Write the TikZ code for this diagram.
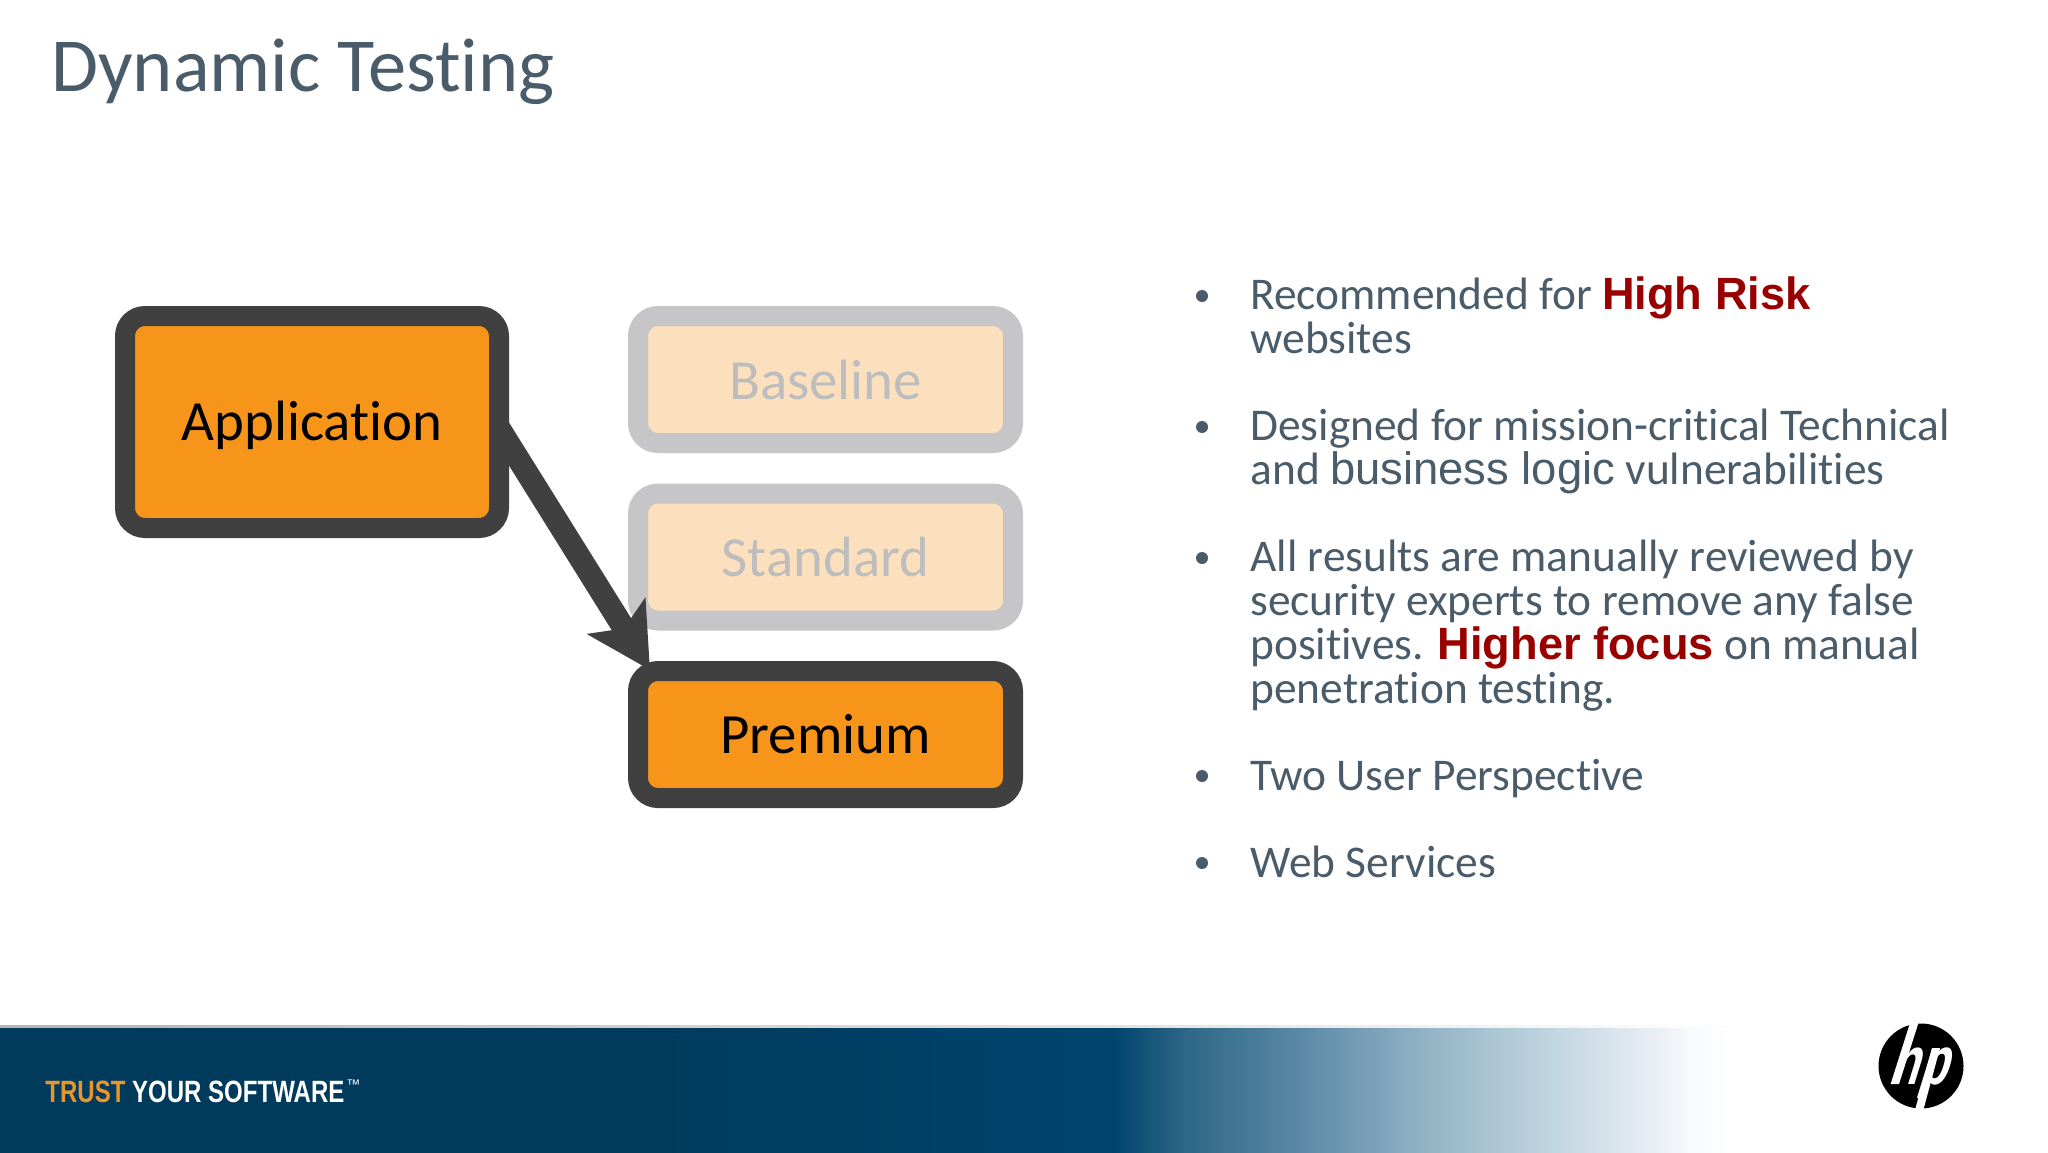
\documentclass[tikz,border=0pt]{standalone}
\usepackage{fontspec}
\setmainfont[Ligatures=NoCommon]{Carlito}
\newfontfamily\arialfont{Liberation Sans}
\newfontfamily\trustfont[FakeStretch=0.78]{Liberation Sans}
\usetikzlibrary{arrows.meta}

\definecolor{slatetext}{HTML}{4A5C6A}
\definecolor{riskred}{HTML}{990000}
\definecolor{boxorange}{HTML}{F7941A}
\definecolor{boxdark}{HTML}{404041}
\definecolor{fadeline}{HTML}{C6C6C8}
\definecolor{fadefill}{HTML}{FCE0BE}
\definecolor{fadetext}{HTML}{BDBDBD}
\definecolor{trustorange}{HTML}{E8952B}
\definecolor{bandA}{HTML}{003A5C}
\definecolor{bandB}{HTML}{00446C}
\definecolor{bandC}{HTML}{2F6788}
\definecolor{bandD}{HTML}{5B8AA6}
\definecolor{bandE}{HTML}{8FB0C3}
\definecolor{bandF}{HTML}{B9D0DC}
\definecolor{bandG}{HTML}{E6ECF3}
\definecolor{bandH}{HTML}{F7F9FB}

\pgfdeclarehorizontalshading{bandfade}{100bp}{
	color(0bp)=(bandA);
	color(39.6bp)=(bandA);
	color(52.15bp)=(bandB);
	color(53.98bp)=(bandC);
	color(56.79bp)=(bandD);
	color(59.6bp)=(bandE);
	color(62.38bp)=(bandF);
	color(65.19bp)=(bandG);
	color(66.2bp)=(bandH);
	color(67.2bp)=(white);
	color(100bp)=(white)
}

\newcommand{\riskword}[1]{{\arialfont\bfseries\fontsize{22.6pt}{22pt}\selectfont\color{riskred}#1}}

\tikzset{
	tierbox/.style={draw=boxdark, fill=boxorange, text=black, line width=10pt, rounded corners=10pt, inner sep=0pt, font=\fontsize{28.4pt}{30pt}\selectfont},
	fadebox/.style={tierbox, draw=fadeline, fill=fadefill, text=fadetext},
	flow/.style={draw=boxdark, line width=11.4pt, -{Stealth[length=31.5pt,width=33.5pt,inset=7pt]}},
	item/.style={anchor=base west, inner sep=0pt, align=left, text=slatetext, font=\fontsize{22.7pt}{22pt}\selectfont},
	dot/.style={circle, fill=slatetext, inner sep=0pt, minimum size=6pt}
}

\begin{document}
\begin{tikzpicture}[x=0.5pt,y=-0.5pt]
	\useasboundingbox (0,0) rectangle (2048,1152);
	% footer band
	\shade[left color=black!30, right color=white] (0,1025) rectangle (1760,1029);
	\shade[shading=bandfade] (0,1028) rectangle (2048,1152);
	\node[anchor=base west, inner sep=0pt, text=white, font=\trustfont\bfseries\fontsize{15.4pt}{18pt}\selectfont] (trust) at (45,1102) {\textcolor{trustorange}{TRUST} YOUR SOFTWARE};
	\node[anchor=base west, inner sep=0pt, text=white, font=\arialfont\fontsize{7pt}{8pt}\selectfont] (tm) at (346,1089) {™};
	% logo
	\fill[black] (1921,1066) circle (42.5);
	\fill[white] (1910.3,1022) -- (1918.7,1022) -- (1899,1084) -- (1890.6,1084) -- cycle;
	\fill[white] (1932,1048) -- (1940,1048) -- (1923.3,1110) -- (1915,1110) -- cycle;
	\node[xscale=0.68, xslant=0.456, transform shape, inner sep=0pt, anchor=base, text=white, font=\arialfont\bfseries\fontsize{34pt}{34pt}\selectfont] (hp) at (1918,1084) {hp};
	% title
	\node[anchor=base west, inner sep=0pt, text=slatetext, font=\fontsize{38.2pt}{40pt}\selectfont] (title) at (51,91) {Dynamic Testing};
	% tiers
	\node[tierbox, text depth=1.4pt, minimum width=187pt, minimum height=106pt] (app) at (312,422) {Application};
	\node[fadebox, minimum width=187.5pt, minimum height=63.5pt] (base) at (825.5,379.5) {Baseline};
	\node[fadebox, minimum width=187.5pt, minimum height=63.5pt] (std) at (825.5,557) {Standard};
	\node[tierbox, minimum width=187.5pt, minimum height=63.5pt] (prem) at (825.5,734.5) {Premium};
	\draw[flow] ([xshift=-5pt,yshift=-3pt]app.east) -- ([xshift=11pt,yshift=-4.5pt]prem.north west);
	% bullets
	\node[dot] (dot1) at (1202,296) {};
	\node[item] (item1) at (1250,353) {Recommended for \riskword{High Risk}\\websites};
	\node[dot] (dot2) at (1202,427) {};
	\node[item] (item2) at (1250,484) {Designed for mission-critical Technical\\and {\arialfont business logic} vulnerabilities};
	\node[dot] (dot3) at (1202,558) {};
	\node[item] (item3) at (1250,703) {All results are manually reviewed by\\security experts to remove any false\\positives. \riskword{Higher focus} on manual\\penetration testing.};
	\node[dot] (dot4) at (1202,776) {};
	\node[item] (item4) at (1250,790) {Two User Perspective};
	\node[dot] (dot5) at (1202,863) {};
	\node[item] (item5) at (1250,877) {Web Services};
\end{tikzpicture}
\end{document}
